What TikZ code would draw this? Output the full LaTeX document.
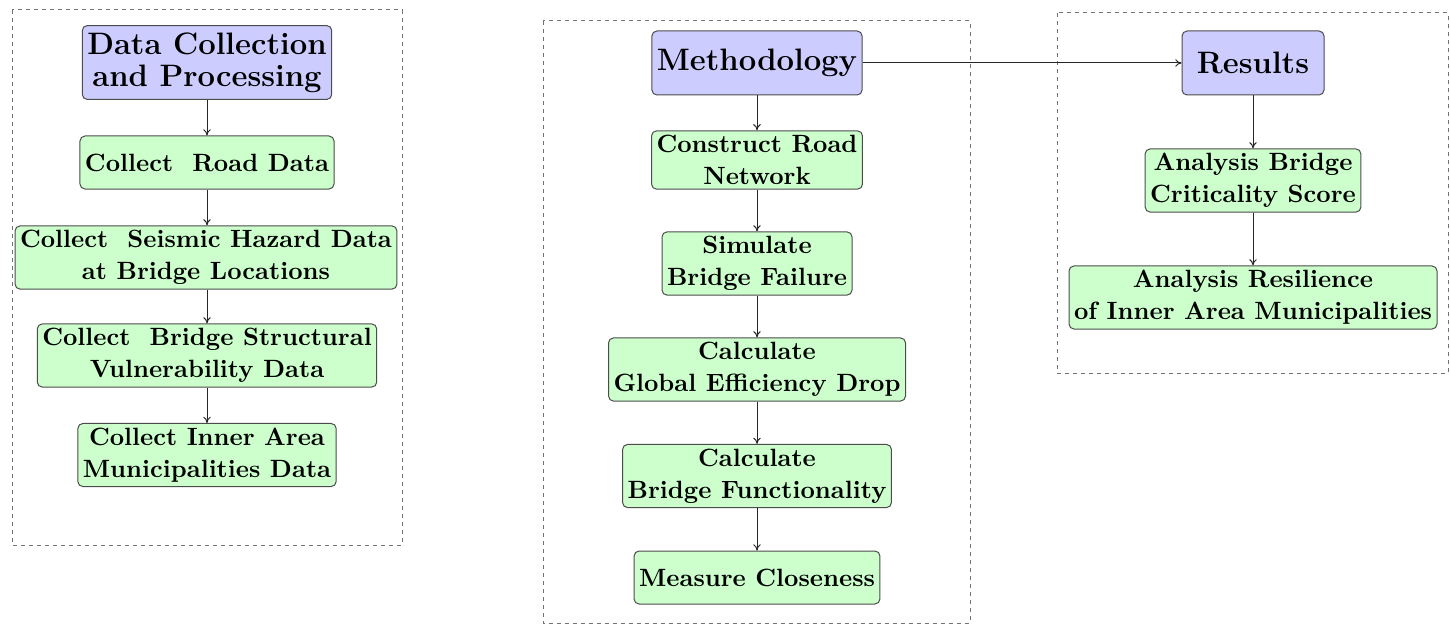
\documentclass[tikz,border=0pt]{standalone}
\usetikzlibrary{arrows.meta}
\begin{document}
\begin{tikzpicture}[x=0.4pt,y=-0.4pt,
  headbox/.style={draw=black!70, fill=blue!20, rounded corners=2pt, align=center,
    font=\fontsize{12.4}{12.8}\selectfont\bfseries, inner xsep=2pt, inner ysep=2.8pt,
    minimum width=56.8pt, minimum height=25.6pt},
  stepbox/.style={draw=black!70, fill=green!20, rounded corners=2pt, align=center,
    font=\fontsize{10}{12.8}\selectfont\bfseries, inner xsep=2pt, inner ysep=1.75pt,
    minimum height=21.2pt},
  frame/.style={draw=black!55, dash pattern=on 1.6pt off 1.6pt, line width=0.4pt},
  link/.style={draw=black!85, -{To[length=2.5pt,width=3pt]}, line width=0.4pt}]
\useasboundingbox (0,0) rectangle (1450,626);

% group frames
\draw[frame] (12,10) rectangle (402,545);
\draw[frame] (543,21) rectangle (970,623);
\draw[frame] (1057,13) rectangle (1448,373);

% data collection column
\node[headbox] (dc) at (207,62.5) {Data Collection\\and Processing};
\node[stepbox] (road) at (207,162.5) {Collect~ Road Data};
\node[stepbox] (seis) at (206,257.5) {Collect~ Seismic Hazard Data\\at Bridge Locations};
\node[stepbox] (vuln) at (207,355.5) {Collect~ Bridge Structural\\Vulnerability Data};
\node[stepbox] (inner) at (207,455) {Collect Inner Area\\Municipalities Data};

% methodology column
\node[headbox] (meth) at (757,63) {Methodology};
\node[stepbox] (net) at (757,160) {Construct Road\\Network};
\node[stepbox] (fail) at (757,263.5) {Simulate\\Bridge Failure};
\node[stepbox] (eff) at (757,369.5) {Calculate\\Global Efficiency Drop};
\node[stepbox] (func) at (757,476) {Calculate\\Bridge Functionality};
\node[stepbox] (close) at (757,577.5) {Measure Closeness};

% results column
\node[headbox] (res) at (1253,63) {Results};
\node[stepbox] (crit) at (1253,180.5) {Analysis Bridge\\Criticality Score};
\node[stepbox] (resil) at (1253,297.5) {Analysis Resilience\\of Inner Area Municipalities};

% connectors
\draw[link] (dc) -- (road);
\draw[link] (road) -- (seis.north -| road);
\draw[link] (seis.south -| road) -- (vuln);
\draw[link] (vuln) -- (inner);

\draw[link] (meth) -- (net);
\draw[link] (net) -- (fail);
\draw[link] (fail) -- (eff);
\draw[link] (eff) -- (func);
\draw[link] (func) -- (close);

\draw[link] (meth) -- (res);
\draw[link] (res) -- (crit);
\draw[link] (crit) -- (resil);
\end{tikzpicture}
\end{document}
